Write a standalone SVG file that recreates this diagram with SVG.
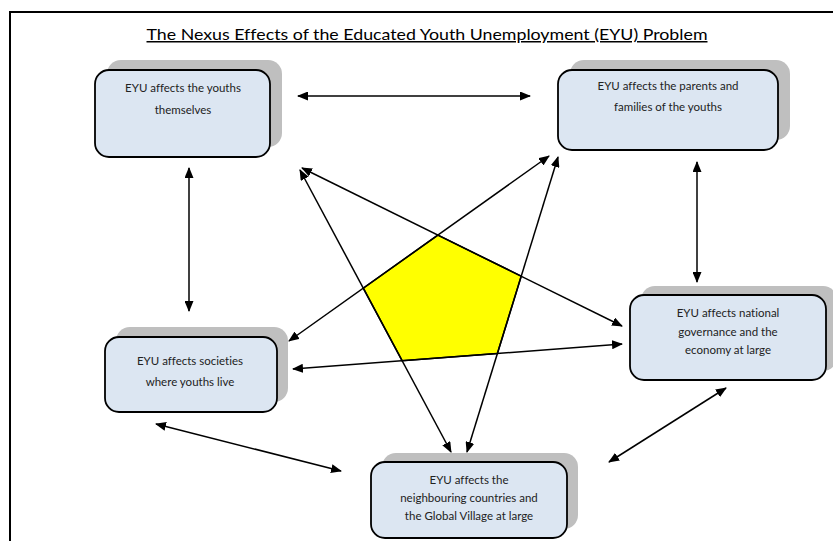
<svg xmlns="http://www.w3.org/2000/svg" width="833" height="541" viewBox="0 0 833 541">
<style>
.frame{fill:none;stroke:#000;stroke-width:2}
.shadow{fill:#BFBFBF}
.box{fill:#DCE6F2;stroke:#000;stroke-width:1.8}
.lbl{font-family:Lato,"Liberation Sans",sans-serif;font-size:11.5px;fill:#222;text-anchor:middle;font-variant-ligatures:none}
.title{font-family:Lato,"Liberation Sans",sans-serif;font-size:15px;fill:#000;text-anchor:middle;text-decoration:underline;font-variant-ligatures:none}
.con{stroke:#000;stroke-width:1.5;fill:none;marker-start:url(#ah);marker-end:url(#ah)}
</style>
<defs>
<marker id="ah" markerUnits="userSpaceOnUse" markerWidth="11" markerHeight="9" refX="10" refY="4.5" orient="auto-start-reverse">
<path d="M0,0 L11,4.5 L0,9 z" fill="#000"/>
</marker>
</defs>
<rect width="833" height="541" fill="#fff"/>
<polyline class="frame" points="10,541 10,12 833,12"/>
<text class="title" x="427" y="40" textLength="561" lengthAdjust="spacingAndGlyphs">The Nexus Effects of the Educated Youth Unemployment (EYU) Problem</text>

<g id="pentagon">
<polygon points="437.9,235.1 521.2,276.2 497.4,353.5 402.1,360.7 363.3,288.2" fill="#FFFF00" stroke="#000" stroke-width="1.5"/>
</g>

<g id="connectors">
<line class="con" x1="298" y1="96" x2="530" y2="96"/>
<line class="con" x1="189" y1="168" x2="189" y2="311"/>
<line class="con" x1="697" y1="162" x2="697" y2="282"/>
<line class="con" x1="156" y1="424" x2="341" y2="471"/>
<line class="con" x1="726" y1="388" x2="609" y2="462"/>
<line class="con" x1="302" y1="168" x2="622" y2="326"/>
<line class="con" x1="300" y1="170" x2="451" y2="452"/>
<line class="con" x1="289" y1="341" x2="549" y2="156"/>
<line class="con" x1="293" y1="369" x2="622" y2="344"/>
<line class="con" x1="467" y1="452" x2="558" y2="157"/>
</g>

<g id="node-youths">
<rect class="shadow" x="107" y="60" width="175" height="87" rx="14"/>
<rect class="box" x="95" y="70" width="175" height="87" rx="14"/>
<text class="lbl" x="183" y="92">EYU affects the youths</text>
<text class="lbl" x="183" y="114">themselves</text>
</g>

<g id="node-parents">
<rect class="shadow" x="570" y="60" width="220" height="80" rx="14"/>
<rect class="box" x="558" y="70" width="220" height="80" rx="14"/>
<text class="lbl" x="668" y="90">EYU affects the parents and</text>
<text class="lbl" x="668" y="111">families of the youths</text>
</g>

<g id="node-societies">
<rect class="shadow" x="116" y="327" width="172" height="75" rx="14"/>
<rect class="box" x="105" y="337" width="172" height="75" rx="14"/>
<text class="lbl" x="190" y="365">EYU affects societies</text>
<text class="lbl" x="190" y="386">where youths live</text>
</g>

<g id="node-governance">
<rect class="shadow" x="641" y="286" width="196" height="85" rx="14"/>
<rect class="box" x="630" y="295" width="196" height="85" rx="14"/>
<text class="lbl" x="728" y="317">EYU affects national</text>
<text class="lbl" x="728" y="336">governance and the</text>
<text class="lbl" x="728" y="354">economy at large</text>
</g>

<g id="node-neighbours">
<rect class="shadow" x="382" y="453" width="196" height="76" rx="14"/>
<rect class="box" x="371" y="462" width="196" height="76" rx="14"/>
<text class="lbl" x="469" y="484">EYU affects the</text>
<text class="lbl" x="469" y="502">neighbouring countries and</text>
<text class="lbl" x="469" y="520">the Global Village at large</text>
</g>
</svg>
